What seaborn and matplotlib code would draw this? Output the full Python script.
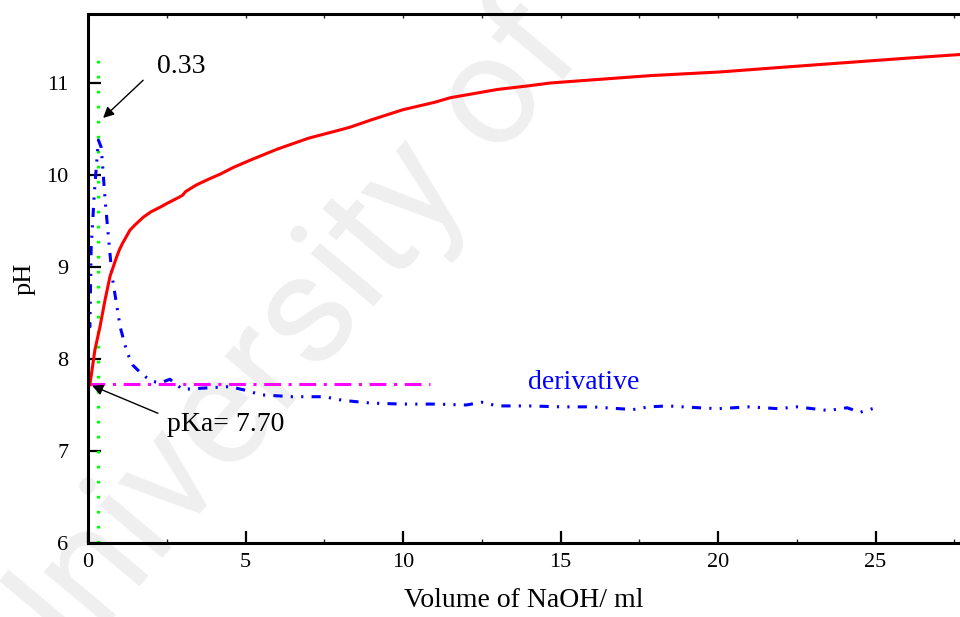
import numpy as np
import pandas as pd
import matplotlib
matplotlib.use("Agg")
import matplotlib.pyplot as plt
import seaborn as sns
from matplotlib.ticker import MultipleLocator

# ---- data ----
vol_ph = [0.0, 0.06, 0.22, 0.38, 0.54, 0.70, 0.91, 1.0, 1.1, 1.2, 1.33, 1.5, 1.75, 2.0,
          2.29, 2.5, 2.9, 3.0, 3.1, 3.43, 3.8, 4.2, 4.6, 5.14, 6.0, 7.0, 8.0, 8.32, 9.0,
          10.0, 11.0, 11.5, 12.0, 13.0, 14.0, 14.67, 16.25, 17.84, 20.06, 22.0, 24.0,
          26.0, 27.7]
ph = [7.70, 7.72, 8.10, 8.35, 8.64, 8.90, 9.11, 9.19, 9.26, 9.32, 9.40, 9.46, 9.54, 9.60,
      9.65, 9.69, 9.76, 9.78, 9.82, 9.89, 9.95, 10.01, 10.08, 10.16, 10.28, 10.40, 10.49,
      10.52, 10.60, 10.71, 10.79, 10.84, 10.87, 10.93, 10.97, 11.00, 11.04, 11.08, 11.12,
      11.17, 11.22, 11.27, 11.31]

vol_der = [0.02, 0.06, 0.10, 0.20, 0.33, 0.42, 0.55, 0.76, 1.02, 1.24, 1.43, 1.70, 2.0,
           2.3, 2.6, 3.0, 3.5, 4.0, 4.5, 5.0, 5.5, 6.5, 7.5, 8.1, 9.0, 10.0, 11.0, 12.0,
           12.5, 13.0, 14.0, 15.0, 16.0, 17.3, 17.8, 18.4, 19.4, 20.0, 21.0, 21.9, 22.5,
           23.5, 24.1, 24.5, 25.0]
deriv = [8.40, 8.35, 9.20, 9.80, 10.38, 10.30, 9.70, 8.91, 8.35, 8.07, 7.93, 7.84, 7.76,
         7.74, 7.78, 7.67, 7.68, 7.69, 7.70, 7.66, 7.61, 7.59, 7.59, 7.55, 7.52, 7.51, 7.51,
         7.50, 7.53, 7.49, 7.49, 7.48, 7.48, 7.45, 7.48, 7.49, 7.47, 7.46, 7.48, 7.46, 7.48,
         7.44, 7.47, 7.42, 7.47]

pka = 7.73
pka_end = 10.86
veq = 0.33
veq_top = 11.3

x_ticks = [0, 5, 10, 15, 20, 25]
y_ticks = [6, 7, 8, 9, 10, 11]

# ---- style ----
sns.set_theme(style="ticks")
plt.rcParams['font.family'] = ['Liberation Serif', 'DejaVu Serif']

fig = plt.figure(figsize=(9.6, 6.17), dpi=100)
ax = fig.add_axes([88/960, 74/617, 872/960, 529/617])
ax.set_facecolor('none')

# watermark (behind the plot)
fig.text(0.037, -0.15, "University of", fontsize=112, color='#efefef',
         family='Roboto', rotation=50, rotation_mode='anchor',
         ha='left', va='baseline', zorder=-5)

df_ph = pd.DataFrame({"vol": vol_ph, "ph": ph})
df_der = pd.DataFrame({"vol": vol_der, "d": deriv})

# green dotted vertical at equivalence volume
sns.lineplot(x=[veq, veq], y=[6.0, veq_top], ax=ax, color='#00ff00', lw=2.4,
             estimator=None, sort=False)
ax.lines[-1].set_dashes((0.8, 3.7))

# magenta dash-dot pKa line
sns.lineplot(x=[0, pka_end], y=[pka, pka], ax=ax, color='#ff00ff', lw=2.2,
             estimator=None, sort=False)
ax.lines[-1].set_dashes((5.5, 2.5, 1, 2.5))

# derivative
sns.lineplot(data=df_der, x="vol", y="d", ax=ax, color='#0000ff', lw=2.2,
             estimator=None, sort=False)
ax.lines[-1].set_dashes((3, 2.7, 0.7, 2.7, 0.7, 2.7))

# titration curve
sns.lineplot(data=df_ph, x="vol", y="ph", ax=ax, color='#ff0000', lw=2.2,
             estimator=None, sort=False)

ax.set_xlim(0, 27.68)
ax.set_ylim(6, 11.75)
ax.set_xticks(x_ticks)
ax.set_yticks(y_ticks)
ax.xaxis.set_minor_locator(MultipleLocator(2.5))
ax.tick_params(axis='both', which='major', direction='in', length=9, width=1.6,
               labelsize=16, color='black', labelcolor='black')
ax.tick_params(axis='x', which='major', pad=7)
ax.tick_params(axis='y', which='major', pad=14)
ax.tick_params(axis='x', which='minor', direction='in', length=3, width=1.0)
for s in ['left', 'bottom', 'top']:
    ax.spines[s].set_linewidth(2.2)
    ax.spines[s].set_color('black')
ax.spines['right'].set_visible(False)

secx = ax.secondary_xaxis('top')
secx.set_xticks([2.5 * i for i in range(12)])
secx.tick_params(direction='in', length=3, width=1.0, labeltop=False)
secx.spines['top'].set_visible(False)

ax.set_xlabel("Volume of NaOH/ ml", fontsize=20, labelpad=12, color='black')
ax.set_ylabel("pH", fontsize=19, labelpad=8, color='black')

ax.annotate("", xy=(0.48, 10.62), xytext=(1.75, 11.03),
            arrowprops=dict(arrowstyle='-|>', color='black', lw=1.0,
                            mutation_scale=16, shrinkA=0, shrinkB=0))
ax.text(2.19, 11.18, "0.33", fontsize=20, ha='left', va='center', color='black')

ax.annotate("", xy=(0.13, 7.71), xytext=(2.22, 7.41),
            arrowprops=dict(arrowstyle='-|>', color='black', lw=1.0,
                            mutation_scale=16, shrinkA=0, shrinkB=0))
ax.text(2.5, 7.29, "pKa= 7.70", fontsize=20, ha='left', va='center', color='black')

ax.text(15.75, 7.74, "derivative", fontsize=20, ha='center', va='center', color='#0000ff')

fig.savefig("out.png", dpi=100)
